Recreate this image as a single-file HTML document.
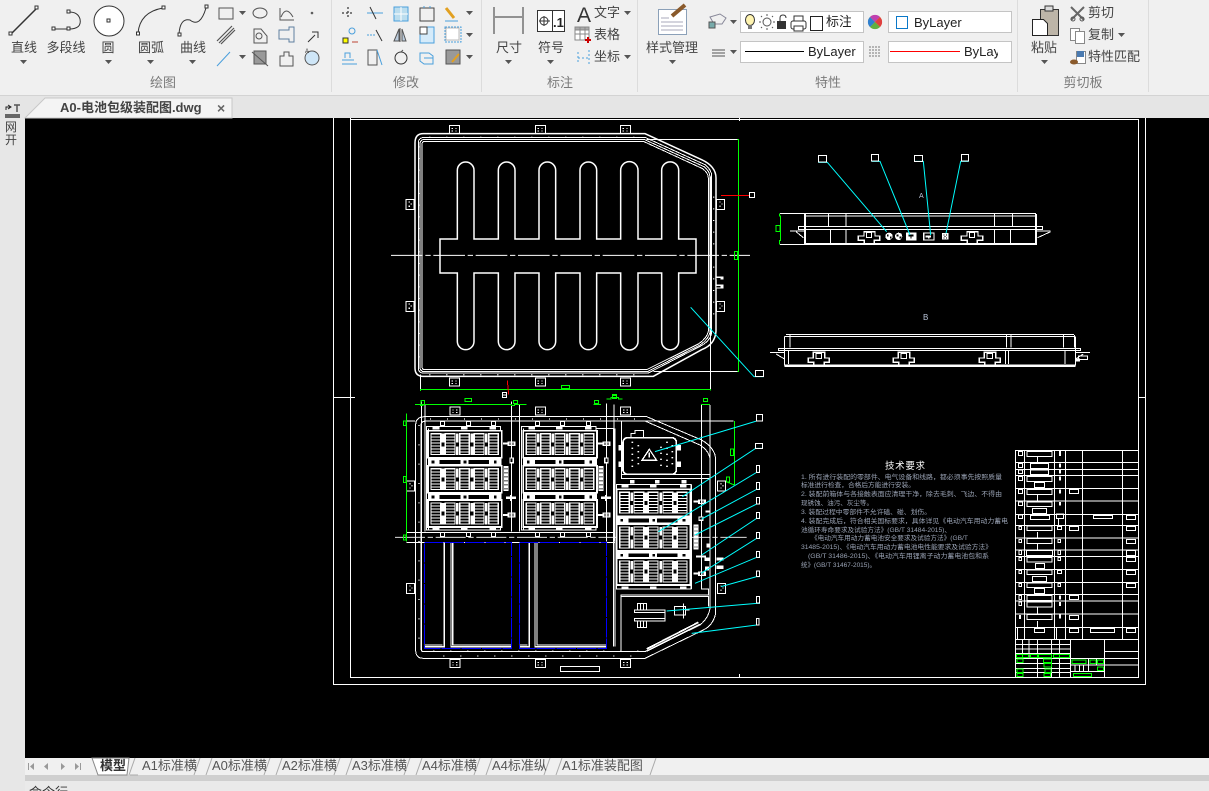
<!DOCTYPE html>
<html lang="zh"><head><meta charset="utf-8"><title>A0-电池包级装配图.dwg</title>
<style>
html,body{margin:0;padding:0;width:1209px;height:791px;overflow:hidden;background:#000}
svg{display:block}
text{font-family:"Liberation Sans","Noto Sans CJK SC",sans-serif}
.w{fill:none;stroke:#fff;stroke-width:3;shape-rendering:crispEdges}
.s{fill:none;stroke:#fff;stroke-width:4.500}
.g{fill:none;stroke:#0f0;stroke-width:3;shape-rendering:crispEdges}
.c{fill:none;stroke:#0ff;stroke-width:3}
.r{fill:none;stroke:#f00;stroke-width:3;shape-rendering:crispEdges}
.b{fill:none;stroke:#00f;stroke-width:3;stroke-dasharray:58 3;shape-rendering:crispEdges}
.f{fill:#fff;stroke:none;shape-rendering:crispEdges}
.k{fill:#000;stroke:none;shape-rendering:crispEdges}
.t{font-size:13px;fill:#444;text-anchor:middle}
.h{font-size:13px;fill:#7a7a7a;text-anchor:middle}
.l{font-size:13px;fill:#444}
.q{font-size:13px;fill:#555}
.d{font-size:6.500px;fill:#9aa3b5}
.i{fill:none;stroke:#555;stroke-width:1}
.u{fill:none;stroke:#4a9fdc;stroke-width:1}
.a{fill:#555}
</style></head><body>
<svg width="1209" height="791" viewBox="0 0 1209 791" xmlns="http://www.w3.org/2000/svg">
<defs>
<g id="cell"><rect width="33" height="66" class="f"/>
<path d="M4 4h25v6H4zM4 13h25v6H4zM4 22h25v6H4zM4 31h25v6H4zM4 40h25v6H4zM4 49h25v6H4zM4 58h25v5H4z" class="k"/></g>
<g id="mod"><rect x="-3" y="-3" width="221" height="81" class="k"/><rect x="-3" y="-3" width="221" height="81" class="w" style="stroke-width:5"/>
<use href="#cell" x="4" y="4"/><use href="#cell" x="47" y="4"/><use href="#cell" x="90" y="4"/><use href="#cell" x="134" y="4"/><use href="#cell" x="177" y="4"/>
<path d="M38 6h8v26h-8zM38 44h8v26h-8zM81 6h8v26h-8zM81 44h8v26h-8zM125 6h8v26h-8zM125 44h8v26h-8zM168 6h8v26h-8zM168 44h8v26h-8z" class="f"/></g>
<g id="sep"><rect x="-3" y="0" width="221" height="22" class="f"/><path d="M32 5h62v12H32zM118 5h62v12h-62z" class="k"/><path d="M8 7h8v8H8zM104 7h8v8h-8zM195 7h8v8h-8z" class="k"/></g>
<g id="ear"><rect width="30" height="24" class="w"/><path d="M7 8h4v3H7zM18 8h4v3h-4zM7 15h4v3H7zM18 15h4v3h-4z" class="f"/></g>
<g id="earv"><rect width="24" height="30" class="w"/><path d="M8 6h4v4H8zM14 12h4v4h-4zM8 19h4v4H8z" class="f"/></g>
<g id="post"><path d="M0 6h14v-4h24v14h-24v-4H0z" class="f"/><path d="M20 5h3v8h-3zM28 5h3v8h-3z" class="k"/></g>
<g id="bar"><rect width="16" height="75" class="f"/><path d="M3 6h4v4H3zM9 6h4v4H9zM3 18h4v4H3zM9 18h4v4H9zM3 30h4v4H3zM9 30h4v4H9zM3 42h4v4H3zM9 42h4v4H9zM3 54h4v4H3zM9 54h4v4H9zM3 66h4v4H3zM9 66h4v4H9z" class="k"/></g>
<path id="dn" d="M0 0h7l-3.500 4z"/>
</defs>

<!-- chrome -->
<rect width="1209" height="95" fill="#f0f0f0"/>
<rect y="95" width="1209" height="1" fill="#d3d3d3"/>
<rect y="96" width="1209" height="22" fill="#e5e5e5"/>
<rect y="118" width="25" height="640" fill="#e7e7e7"/>
<rect y="758" width="1209" height="17" fill="#f0f0f0"/>
<rect y="775" width="1209" height="6" fill="#cfcfcf"/>
<rect y="781" width="1209" height="10" fill="#eaeaea"/>
<rect x="0" y="758" width="25" height="33" fill="#e7e7e7"/>
<rect x="25" y="118" width="1184" height="640" fill="#000"/>
<path d="M331.500 0v92M481.500 0v92M637.500 0v92M1017.500 0v92M1148.500 0v92" stroke="#dcdcdc" fill="none"/>

<!-- draw icons -->
<g fill="none" stroke="#333" stroke-width="1">
<path d="M11 34L37 8" stroke-width="1.500"/><rect x="9" y="32" width="3" height="3" fill="#fff"/><rect x="35" y="6" width="3" height="3" fill="#fff"/>
<path d="M54 29H69Q82 29 80 19Q78 12 69 12"/><rect x="52" y="27" width="3" height="3" fill="#fff"/><rect x="67" y="27" width="3" height="3" fill="#fff"/><rect x="67" y="10" width="3" height="3" fill="#fff"/>
<circle cx="109" cy="21" r="15" fill="#fff"/><rect x="107" y="19" width="3" height="3"/>
<path d="M138 33Q140 12 163 8"/><rect x="136.500" y="32" width="3" height="3" fill="#fff"/><rect x="162" y="6" width="3" height="3" fill="#fff"/>
<path d="M179 34Q180 18 190 20Q200 28 206 8"/><rect x="178" y="33" width="3" height="3" fill="#fff"/><rect x="205" y="5" width="3" height="3" fill="#fff"/>
</g>
<g class="i">
<rect x="219" y="8" width="14" height="11"/><ellipse cx="260" cy="13" rx="7" ry="5"/><path d="M280 8v12h14M281 17q5-12 12 0"/><circle cx="312" cy="13" r=".8"/>
<path d="M217 41l15-15M219 43l15-15M221 44l14-14" stroke-width="1.200"/><path d="M254 29h7l6 7v7h-13z"/><circle cx="259" cy="36" r="3"/><path d="M279 30h10v-3h5v15h-5v-3h-10z" stroke="#5f7fa0"/><path d="M308 42l7-7 M312 32h6v6" stroke="#333"/>
<path d="M217 66l13-14" stroke="#4a9fdc"/><rect x="254" y="51" width="12" height="13" fill="#999"/><path d="M252 52l16 14" /><path d="M280 56h4v-4h5v4h4v10h-13z"/><circle cx="312" cy="58" r="7" fill="#cfe6f7" stroke="#555"/><text x="305" y="53" font-size="6" fill="#333" stroke="none">A</text>
</g>
<g class="a"><use href="#dn" x="20" y="60"/><use href="#dn" x="105" y="60"/><use href="#dn" x="147" y="60"/><use href="#dn" x="189" y="60"/><use href="#dn" x="239" y="11"/><use href="#dn" x="239" y="55"/><use href="#dn" x="466" y="11"/><use href="#dn" x="466" y="33"/><use href="#dn" x="466" y="55"/><use href="#dn" x="505" y="60"/><use href="#dn" x="547" y="60"/><use href="#dn" x="624" y="11"/><use href="#dn" x="624" y="55"/><use href="#dn" x="669" y="60"/><use href="#dn" x="730" y="20"/><use href="#dn" x="730" y="50"/><use href="#dn" x="853" y="20"/><use href="#dn" x="853" y="50"/><use href="#dn" x="1001" y="20"/><use href="#dn" x="1001" y="50"/><use href="#dn" x="1041" y="60"/><use href="#dn" x="1118" y="33"/></g>
<text x="24" y="52" class="t">直线</text><text x="66" y="52" class="t">多段线</text><text x="108" y="52" class="t">圆</text><text x="151" y="52" class="t">圆弧</text><text x="193" y="52" class="t">曲线</text>
<text x="163" y="87" class="h">绘图</text><text x="406" y="87" class="h">修改</text><text x="560" y="87" class="h">标注</text><text x="828" y="87" class="h">特性</text><text x="1083" y="87" class="h">剪切板</text>
<!-- modify icons -->
<g class="i">
<path d="M342 13h12M348 7v12" stroke-dasharray="2 2" stroke-width="1.500"/><path d="M367 13h16" stroke="#4a9fdc"/><path d="M370 7l6 12" stroke="#333"/>
<rect x="394" y="7" width="14" height="14" fill="#bde" stroke="#4a9fdc"/><path d="M401 7v14M394 14h14" stroke="#fff"/><rect x="420" y="8" width="14" height="13" stroke="#444"/><path d="M424 8V6M430 8V6" stroke="#4a9fdc"/>
<path d="M446 8l8 10" stroke="#e2a020" stroke-width="3"/><path d="M445 21h13" stroke="#4a9fdc"/>
<rect x="343" y="38" width="5" height="5" fill="#ff0" stroke="#333"/><circle cx="352" cy="31" r="3" stroke="#4a9fdc"/><path d="M352 42h6" stroke="#b43"/>
<path d="M367 35h8" stroke="#4a9fdc" stroke-dasharray="2 1"/><path d="M376 30l6 11" stroke="#333"/>
<path d="M400 28v14M399 29l-5 12h5zM402 29l4 12h-4z" fill="#bcd"/><rect x="420" y="27" width="14" height="16" fill="#d5ebfa" stroke="#4a9fdc"/><rect x="420" y="27" width="7" height="7" fill="#fff" stroke="#444"/>
<rect x="445" y="27" width="16" height="15" stroke="#4a9fdc" stroke-dasharray="2 1"/><rect x="446" y="28" width="13" height="12" fill="#fff" stroke="#bbb"/>
<path d="M342 60h12M345 58v-5h5v5M342 64h15" stroke="#4a9fdc"/><rect x="368" y="50" width="9" height="15"/><path d="M377 50l5 15" stroke="#4a9fdc"/><circle cx="401" cy="58" r="6" stroke="#333"/><path d="M401 52l2-2"/><path d="M420 53h9l4 3v8h-9l-4-3zM424 58h9" stroke="#4a9fdc"/>
<rect x="446" y="50" width="14" height="14" fill="#999"/><path d="M452 62l7-8" stroke="#e2a020" stroke-width="2"/>
</g>
<!-- annotation icons -->
<g fill="none" stroke="#333"><path d="M494 7v27M523 7v27"/><path d="M495 17h27"/></g>
<rect x="537.500" y="10.500" width="27" height="21" fill="#fff" stroke="#333"/><path d="M552.500 11v20" stroke="#333"/><circle cx="544" cy="21" r="4" fill="none" stroke="#333"/><path d="M539 21h11M544 16v10" stroke="#333"/><text x="553" y="27" font-size="13" font-weight="bold" fill="#222">.1</text>
<text x="577" y="22" font-size="21" fill="#333">A</text><rect x="575" y="27" width="14" height="13" fill="#fff" stroke="#888"/><path d="M575 30h14v-3h-14zM580 27v13M585 27v13M575 34h14" fill="#aaa" stroke="#888"/><path d="M588 37v6M585 40h6" stroke="#c00" stroke-width="2"/>
<g fill="none" stroke="#4a9fdc" stroke-dasharray="2 2"><path d="M578 52v12M589 50v14M578 58h11"/></g>
<text x="594" y="17" class="l">文字</text><text x="594" y="39" class="l">表格</text><text x="594" y="61" class="l">坐标</text>
<text x="509" y="52" class="t">尺寸</text><text x="551" y="52" class="t">符号</text>
<!-- style mgr -->
<rect x="658.500" y="9.500" width="28" height="25" fill="#fff" stroke="#8ba0b8"/><path d="M661 18h8M661 22h22M661 26h22M661 30h22" stroke="#aab"/><path d="M672 16L685 5" stroke="#8a5a2b" stroke-width="4"/>
<text x="672" y="52" class="t">样式管理</text>
<g class="i"><path d="M710 17l10-3 6 4-4 6h-8z" stroke="#889"/><rect x="709" y="22" width="6" height="6" fill="#7aa"/><path d="M712 50h13M712 53h13M712 56h13"/></g>
<!-- combos -->
<g fill="#fff" stroke="#c4c4c4"><rect x="740.500" y="11.500" width="123" height="21"/><rect x="888.500" y="11.500" width="123" height="21"/><rect x="740.500" y="41.500" width="123" height="21"/><rect x="888.500" y="41.500" width="123" height="21"/></g>
<ellipse cx="750" cy="20" rx="4.500" ry="5.500" fill="#fff4b0" stroke="#333"/><rect x="748" y="25" width="4" height="4" fill="#777"/>
<circle cx="767" cy="22" r="4" fill="#fff" stroke="#555"/><path d="M761 22h-2M775 22h-2M767 16v-2M767 30v-2M762 17l-1-1M773 28l-1-1M772 17l1-1M761 28l1-1" stroke="#555"/>
<rect x="777" y="21" width="9" height="8" fill="#333"/><path d="M780 21v-3q0-3 3-3t3 3" fill="none" stroke="#333"/>
<rect x="791" y="21" width="15" height="8" rx="2" fill="#fff" stroke="#333"/><rect x="794" y="16" width="9" height="5" fill="#fff" stroke="#333"/><rect x="794" y="26" width="9" height="5" fill="#fff" stroke="#333"/>
<rect x="810.500" y="16.500" width="12" height="14" fill="#fff" stroke="#222"/>
<svg x="826" y="12" width="25" height="20"><text x="0" y="14" class="l" style="fill:#222">标注</text></svg>
<circle cx="875" cy="22" r="7" fill="#e8c020"/><path d="M875 22L870 17A7 7 0 0 1 880 17z" fill="#c040b0"/><path d="M875 22L880 17A7 7 0 0 1 880 27z" fill="#e04040"/><path d="M875 22L870 27A7 7 0 0 0 880 27z" fill="#60b040"/><path d="M875 22L870 17A7 7 0 0 0 870 27z" fill="#3080d0"/>
<rect x="896.500" y="16.500" width="11" height="12" fill="#fff" stroke="#0a78c8"/>
<text x="914" y="27" class="l" style="fill:#222">ByLayer</text>
<path d="M745 51.500h59" stroke="#000"/><text x="808" y="56" class="l" style="fill:#222">ByLayer</text>
<rect x="890" y="51" width="70" height="1" fill="#f00"/>
<svg x="964" y="42" width="34" height="20"><text x="0" y="14" class="l" style="fill:#222">ByLayer</text></svg>
<path d="M869 47h12M869 50h12M869 53h12M869 56h12" stroke="#777" stroke-dasharray="2 1"/>
<!-- clipboard -->
<rect x="1040.500" y="9.500" width="18" height="26" fill="#bdb5a8" stroke="#333"/><rect x="1045" y="6" width="8" height="5" fill="#ddd" stroke="#333"/><path d="M1032.500 19.500h11l4 4v12h-15z" fill="#fff" stroke="#222"/>
<text x="1044" y="52" class="t">粘贴</text>
<path d="M1071 7l13 13M1084 7l-13 13" stroke="#666" stroke-width="2"/><circle cx="1073" cy="19" r="2" fill="none" stroke="#555"/><circle cx="1082" cy="19" r="2" fill="none" stroke="#555"/>
<rect x="1070.500" y="28.500" width="9" height="12" fill="#fff" stroke="#888"/><rect x="1075.500" y="31.500" width="9" height="12" fill="#fff" stroke="#888"/>
<rect x="1076.500" y="51.500" width="9" height="12" fill="#fff" stroke="#888"/><rect x="1077" y="51" width="7" height="6" fill="#4a7ab0"/><ellipse cx="1074" cy="62" rx="4" ry="2.500" fill="#8a5a2b"/>
<text x="1088" y="17" class="l">剪切</text><text x="1088" y="39" class="l">复制</text><text x="1088" y="61" class="l">特性匹配</text>
<!-- doc tab -->
<path d="M25 118L45 98H232V118Z" fill="#f4f4f4" stroke="#c8c8c8"/>
<text x="60" y="112" font-size="13" font-weight="bold" fill="#444">A0-电池包级装配图.dwg</text>
<text x="217" y="113" font-size="14" font-weight="bold" fill="#666">×</text>
<g><path d="M6 110v-3h4M8 105l3 2-3 2" fill="none" stroke="#222"/><path d="M14 105h6M17 105v7" stroke="#555" stroke-width="1.500"/><rect x="5" y="114" width="15" height="4" fill="#666"/></g>
<text x="5" y="131" font-size="12" fill="#444">网</text><text x="5" y="144" font-size="12" fill="#444">开</text>

<!-- frame -->
<g class="w" style="stroke-width:1">
<path d="M333.500 118V684.500H1145.500V118M350.500 118V678M350.500 119.500H1138.500V677.500H350.500M1138.500 119V678M333 397.500H355M1138 397.500H1145M739.500 118V121M739.500 674V678"/>
</g>

<!-- TOP VIEW -->
<g transform="translate(390,118) scale(.33333)">
<path class="s" d="M100 47H765L935 125Q978 145 978 180V640Q975 680 935 695L790 775H100Q75 775 75 750V75Q75 47 100 47Z"/>
<path class="w" d="M105 58H765L945 140Q965 155 965 175V645Q960 670 930 685L775 765H100Q85 765 85 750V75Q85 58 105 58Z"/>
<path class="w" d="M105 64H762L942 146Q960 160 960 178V642Q955 665 928 682L772 761H102Q90 760 90 747V78Q90 64 105 64Z"/>
<path class="w" d="M105 70H760L938 152Q955 165 955 180V640Q950 662 925 678L770 755H100Q96 752 96 745V80Q96 70 105 70Z"/>
<path fill="none" stroke="#fff" stroke-width="4" stroke-dasharray="3 48" d="M118 58H760M118 770H760"/>
<path fill="none" stroke="#fff" stroke-width="4" stroke-dasharray="3 32" d="M86 85V750M971 236V600"/>
<path class="s" d="M150 363H202V157A25 25 0 0 1 252 157V363H325V157A25 25 0 0 1 375 157V363H447V157A25 25 0 0 1 497 157V363H570V157A25 25 0 0 1 620 157V363H692V157A26 26 0 0 1 744 157V363H815V157A25 25 0 0 1 866 157V363H918V465H866V670A25 25 0 0 1 815 670V465H744V670A26 26 0 0 1 692 670V465H620V670A25 25 0 0 1 570 670V465H497V670A25 25 0 0 1 447 670V465H375V670A25 25 0 0 1 325 670V465H252V670A25 25 0 0 1 202 670V465H150Z"/>
<path fill="none" stroke="#fff" stroke-width="3" stroke-dasharray="95 8 16 8" d="M3 412H1080"/>
<path class="w" d="M770 64H1043M790 760H1043M92 770V815M961 175V815"/>
<path class="g" d="M1043 64H1045V760H1043M90 817H92V815H962V817"/>
<rect x="1033" y="400" width="10" height="25" class="g"/><rect x="514" y="802" width="25" height="10" class="g"/><rect x="667" y="829" width="13" height="10" class="g"/>
<path class="r" d="M993 232H1078M352 787L356 830"/><rect x="1078" y="224" width="16" height="15" class="w"/><rect x="337" y="823" width="13" height="15" class="w"/>
<path class="c" d="M902 568L1092 776H1122"/><rect x="1096" y="757" width="25" height="19" class="w"/>
<use href="#ear" x="178" y="22"/><use href="#ear" x="436" y="22"/><use href="#ear" x="691" y="22"/><use href="#ear" x="178" y="780"/><use href="#ear" x="436" y="780"/><use href="#ear" x="691" y="780"/>
<use href="#earv" x="48" y="244"/><use href="#earv" x="48" y="550"/><use href="#earv" x="980" y="244"/><use href="#earv" x="980" y="550"/>
<rect x="980" y="475" width="20" height="10" class="f"/><rect x="980" y="499" width="20" height="13" class="f"/><rect x="980" y="480" width="12" height="4" class="k"/><rect x="980" y="504" width="12" height="5" class="k"/>
</g>

<!-- BOTTOM VIEW -->
<g transform="translate(395,395) scale(.33333)">
<path class="w" d="M90 65H755L920 135Q962 160 962 195V655Q955 690 925 705L750 790H85Q62 790 62 765V90Q62 65 90 65Z"/>
<path class="w" d="M95 78H750L915 150Q945 170 945 195V640Q940 670 915 690L750 770H85Q78 770 78 760V90Q78 78 95 78Z"/>
<path class="w" style="stroke-width:5" d="M755 768L915 688M755 762L910 682"/>
<path class="w" d="M35 412H660M35 443H660M80 20V770M90 28V410M350 20V410M373 28V410M635 25V440M657 28V440M920 30V265M945 30V265M35 78H60M680 78H1016"/>
<path fill="none" stroke="#fff" stroke-width="2.500" stroke-dasharray="90 8 16 8" d="M0 427H1055"/>
<path class="w" d="M95 95V405H317V95ZM100 100V405M380 95V405H603V95ZM386 100V405M660 100V755M655 100V755M605 100H655"/>
<!-- ears -->
<use href="#ear" x="165" y="36"/><use href="#ear" x="421" y="36"/><use href="#ear" x="677" y="36"/><use href="#ear" x="165" y="793"/><use href="#ear" x="421" y="793"/><use href="#ear" x="677" y="793"/>
<use href="#earv" x="35" y="258"/><use href="#earv" x="35" y="565"/><use href="#earv" x="968" y="258"/><use href="#earv" x="968" y="565"/>
<rect x="496" y="814" width="118" height="16" class="w"/>
<path fill="none" stroke="#fff" stroke-width="4" stroke-dasharray="3 48" d="M105 72H750M115 768H750M145 783H720"/>
<path fill="none" stroke="#fff" stroke-width="4" stroke-dasharray="3 55" d="M72 90V760"/>
<!-- clips tops -->
<path class="f" d="M113 96h20v8h-20zM198 96h20v8h-20zM283 96h20v8h-20zM400 96h20v8h-20zM483 96h20v8h-20zM570 96h20v8h-20zM113 398h20v8h-20zM198 398h20v8h-20zM283 398h20v8h-20zM400 398h20v8h-20zM483 398h20v8h-20zM570 398h20v8h-20zM680 270h20v8h-20zM765 270h20v8h-20zM855 270h20v8h-20zM680 575h20v8h-20zM765 575h20v8h-20zM855 575h20v8h-20z"/>
<path class="w" d="M136 80h12v12h-12zM214 80h12v12h-12zM289 80h12v12h-12zM422 80h12v12h-12zM496 80h12v12h-12zM574 80h12v12h-12zM136 412h12v12h-12zM214 412h12v12h-12zM289 412h12v12h-12zM422 412h12v12h-12zM496 412h12v12h-12zM574 412h12v12h-12z"/>
<!-- modules -->
<use href="#sep" x="102" y="190"/><use href="#sep" x="102" y="295"/><use href="#sep" x="388" y="190"/><use href="#sep" x="388" y="295"/>
<use href="#mod" x="102" y="110"/><use href="#mod" x="102" y="215"/><use href="#mod" x="102" y="318"/>
<use href="#mod" x="388" y="110"/><use href="#mod" x="388" y="215"/><use href="#mod" x="388" y="318"/>
<use href="#sep" x="668" y="365"/><use href="#sep" x="668" y="470"/>
<use href="#mod" x="668" y="286"/><use href="#mod" x="668" y="390"/><use href="#mod" x="668" y="492"/>
<path class="w" d="M664 268V582H888V268ZM890 268V582M920 268V582H940V600H678V770M678 604H940V635"/>
<use href="#post" x="324" y="137"/><use href="#post" x="324" y="351"/><use href="#post" x="609" y="137"/><use href="#post" x="609" y="351"/><use href="#post" x="895" y="311"/><use href="#post" x="895" y="527"/>
<use href="#bar" x="325" y="213"/><use href="#bar" x="610" y="213"/><use href="#bar" x="895" y="388"/>
<path class="f" d="M343 187h14v18h-14zM333 305h30v7h-30zM345 300h5v18h-5zM627 187h14v18h-14zM618 305h30v7h-30zM630 300h5v18h-5zM910 364h16v14h-16zM932 346h12v6h-12zM903 481h30v7h-30zM928 488h16v10h-16zM935 445h10v12h-10zM930 515h12v12h-12z"/>
<path class="k" d="M347 191h6v10h-6zM631 191h6v10h-6zM914 368h8v6h-8z"/>
<!-- blue bay -->
<path class="w" style="stroke-width:4" d="M88 755H148V443M88 750H142M168 443V755H350M173 443V750H350M373 755H403V443M373 750H398M420 443V755H635M426 443V750H635"/>
<rect x="88" y="443" width="262" height="317" class="b"/><rect x="373" y="443" width="262" height="317" class="b"/>
<!-- e-box -->
<path class="w" d="M680 80V250H945M680 238H945"/>
<rect x="684" y="128" width="160" height="110" rx="14" class="w" style="stroke-width:5"/>
<path class="w" d="M708 128V115H720V107H745V128"/>
<path class="f" d="M670 150h10v16h-10zM670 200h10v16h-10zM846 150h12v16h-12zM846 200h12v16h-12zM705 255h14v10h-14zM780 255h14v10h-14zM860 255h14v10h-14z"/>
<path fill="none" stroke="#fff" stroke-width="5" stroke-dasharray="4 14" d="M712 140V230M730 150V222M798 155V225M816 140V230M832 150V220"/>
<path class="w" style="stroke-width:4" d="M763 163L785 196H741Z"/><path class="f" d="M761 173h4v14h-4z"/>
<!-- connector -->
<path class="w" d="M728 645V625H755V645M736 626V645M745 626V645M718 645H810V653H718ZM718 670H810V678H718ZM728 678V697H755V678M736 678V697M745 678V697M810 645V675M838 635H872V660H838ZM865 625V670M872 645H884"/>
<!-- right side extras -->
<path class="f" d="M965 488h20v8h-20zM965 512h20v10h-20z"/>
<!-- dims -->
<path class="g" d="M60 28H76V32H84V28H350V32H358V28H395M595 28H618M635 12H648V8H670V12H682M918 28H945M35 55V440M1018 78V270M998 262L1018 270"/>
<rect x="78" y="16" width="10" height="12" class="g"/><rect x="210" y="10" width="20" height="10" class="g"/><rect x="355" y="16" width="12" height="10" class="g"/><rect x="598" y="16" width="12" height="10" class="g"/><rect x="652" y="2" width="12" height="8" class="g"/><rect x="925" y="10" width="13" height="10" class="g"/><rect x="25" y="78" width="8" height="14" class="g"/><rect x="25" y="245" width="8" height="18" class="g"/><rect x="25" y="420" width="8" height="15" class="g"/><rect x="1006" y="162" width="10" height="20" class="g"/><rect x="994" y="246" width="9" height="15" class="g"/>
<rect x="322" y="0" width="12" height="8" class="w"/>
<!-- leaders -->
<path class="c" d="M780 170L1085 78H1103M862 305L1082 160H1103M790 410L1085 232H1095M920 372L1085 283H1095M900 420L1085 327H1095M920 480L1085 370H1095M918 535L1085 430H1095M900 565L1085 487H1095M978 575L1085 545H1095M815 648L1085 625H1095M890 715L1085 690H1092"/>
<rect x="1084" y="58" width="19" height="20" class="w"/><rect x="1081" y="145" width="22" height="15" class="w"/><rect x="1084" y="212" width="10" height="20" class="w"/><rect x="1084" y="263" width="10" height="20" class="w"/><rect x="1084" y="307" width="10" height="20" class="w"/><rect x="1084" y="352" width="10" height="18" class="w"/><rect x="1084" y="412" width="10" height="18" class="w"/><rect x="1084" y="470" width="10" height="17" class="w"/><rect x="1084" y="528" width="10" height="17" class="w"/><rect x="1084" y="604" width="10" height="20" class="w"/><rect x="1084" y="670" width="8" height="20" class="w"/>
</g>

<!-- SIDE VIEWS -->
<g transform="translate(770,140) scale(.33333)">
<path class="w" style="stroke-width:6" d="M105 222V312H798V222"/>
<path class="w" d="M105 221H798M105 228H798M85 259H818V268H85ZM175 222V258M228 222V258M673 222V258M727 222V258M181 268V310M228 268V310M673 268V310M721 268V310M30 220H105M30 313H105M60 273H103M800 273H842M78 275L100 293M842 275L803 293"/>
<path class="g" d="M28 220V228H32V302H28V314"/><rect x="18" y="256" width="12" height="18" class="g"/>
<g id="cn"><path class="w" style="stroke-width:4" d="M265 301V288H282V275H315V288H329V301H313V312H283V301Z"/><rect x="289" y="277" width="16" height="16" class="w"/></g>
<use href="#cn" x="309"/>
<circle cx="357" cy="289" r="11" class="f"/><circle cx="386" cy="289" r="11" class="f"/><path class="k" d="M351 284h5v5h-5zM360 290h5v5h-5zM380 284h5v5h-5zM389 290h5v5h-5z"/>
<rect x="408" y="277" width="32" height="25" class="f"/><path class="k" d="M415 283h16v6h-6v7h-4v-7h-6z"/>
<rect x="459" y="277" width="35" height="25" class="f"/><path class="k" d="M463 281h27v17h-27z"/><path class="f" d="M467 286h16v6h-5v4h-4v-4h-7z"/>
<rect x="516" y="279" width="20" height="20" class="f"/><path class="k" d="M520 283h3v3h-3zM528 283h3v3h-3zM524 288h3v3h-3zM520 293h3v3h-3zM528 293h3v3h-3z"/>
<path class="c" d="M145 67H172L350 275M305 64H330L420 285M433 64H460L482 285M596 64H572L528 280"/>
<rect x="145" y="46" width="25" height="20" class="w"/><rect x="304" y="43" width="22" height="20" class="w"/><rect x="433" y="46" width="25" height="18" class="w"/><rect x="574" y="43" width="22" height="20" class="w"/>
<path class="w" style="stroke-width:7" d="M43 677H916"/>
<path class="w" d="M48 584H912M43 590H915M43 590V677M916 590V677M25 625H932V632H25ZM60 585V622M710 585V622M723 585V622M880 585V622M913 585V622M55 632V672M707 632V672M715 632V672M885 632V672M0 638H43M915 638H960M18 642L42 656M940 642L918 656"/>
<rect x="925" y="648" width="28" height="11" class="w"/><rect x="918" y="655" width="12" height="9" class="f"/>
<g id="cn2"><path class="w" style="stroke-width:4" d="M115 667V654H130V637H164V654H178V667H163V675H131V667Z"/><rect x="138" y="641" width="17" height="14" class="w"/></g>
<use href="#cn2" x="255"/><use href="#cn2" x="513"/>
</g>
<text x="919" y="198" font-size="7" fill="#b9c4d8">A</text>
<text x="923" y="320" font-size="8" fill="#b9c4d8">B</text>

<!-- tech text -->
<text x="885" y="469" font-size="9.500" fill="#fff" textLength="40">技术要求</text>
<text x="801" y="479" class="d" textLength="201" lengthAdjust="spacingAndGlyphs">1. 所有进行装配的零部件、电气设备和线路，都必须事先按照质量</text>
<text x="801" y="487" class="d" textLength="114" lengthAdjust="spacingAndGlyphs">标准进行检查，合格后方能进行安装。</text>
<text x="801" y="496" class="d" textLength="201" lengthAdjust="spacingAndGlyphs">2. 装配前箱体与各接触表面应清理干净，除去毛刺、飞边、不得由</text>
<text x="801" y="505" class="d" textLength="72" lengthAdjust="spacingAndGlyphs">现锈蚀、油污、灰尘等。</text>
<text x="801" y="514" class="d" textLength="130" lengthAdjust="spacingAndGlyphs">3. 装配过程中零部件不允许磕、碰、划伤。</text>
<text x="801" y="523" class="d" textLength="207" lengthAdjust="spacingAndGlyphs">4. 装配完成后，符合相关国标要求，具体详见《电动汽车用动力蓄电</text>
<text x="801" y="532" class="d" textLength="150" lengthAdjust="spacingAndGlyphs">池循环寿命要求及试验方法》(GB/T 31484-2015)、</text>
<text x="811" y="540" class="d" textLength="157" lengthAdjust="spacingAndGlyphs">《电动汽车用动力蓄电池安全要求及试验方法》(GB/T</text>
<text x="801" y="549" class="d" textLength="191" lengthAdjust="spacingAndGlyphs">31485-2015)、《电动汽车用动力蓄电池电性能要求及试验方法》</text>
<text x="808" y="558" class="d" textLength="181" lengthAdjust="spacingAndGlyphs">(GB/T 31486-2015)、《电动汽车用锂离子动力蓄电池包和系</text>
<text x="801" y="567" class="d" textLength="75" lengthAdjust="spacingAndGlyphs">统》(GB/T 31467-2015)。</text>

<!-- parts table -->
<g transform="translate(790,450) scale(.33333)">
<path class="w" d="M677 1H1045V682H677ZM677 37H1045M677 58H1045M677 76H1045M677 115H1045M677 153H1045M677 193H1045M677 226H1045M677 264H1045M677 300H1045M677 320H1045M677 358H1045M677 397H1045M677 433H1045M677 453H1045M677 492H1045M677 532H1045M677 568H1045M703 1V568M793 1V568M826 1V568M877 1V568M997 1V568M683 532V568M800 532V568"/>
<path class="w" d="M685 4h13v13h-13zM711 4h75v16h-75zM742 20v17M685 40h13v13h-13zM721 40h55v15h-55zM685 60h13v11h-13zM721 60h55v14h-55zM685 79h13v13h-13zM711 79h75v15h-75zM733 97h30v15h-30zM685 118h13v13h-13zM711 118h75v15h-75zM742 133v20M838 118h28v13h-28zM685 156h13v11h-13zM711 156h75v14h-75zM727 176h43v14h-43zM685 195h13v11h-13zM721 196h58v12h-58zM799 192h22v14h-22zM805 206v20M910 196h58v10h-58zM1009 196h28v12h-28zM687 229h8v10h-8zM711 228h75v14h-75zM742 246v18M802 229h13v10h-13zM838 229h28v13h-28zM1009 229h28v12h-28zM687 268h8v10h-8zM711 266h75v14h-75zM742 280v20M804 268h8v10h-8zM1009 268h28v12h-28zM687 302h8v12h-8zM710 302h78v14h-78zM804 302h8v12h-8zM1009 302h28v14h-28zM687 322h8v10h-8zM711 322h75v14h-75zM736 340h28v15h-28zM804 322h8v10h-8zM1009 322h28v12h-28zM687 361h8v10h-8zM711 360h75v14h-75zM727 380h43v14h-43zM802 361h13v10h-13zM1009 361h28v12h-28zM687 400h8v10h-8zM711 399h75v14h-75zM733 416h30v15h-30zM804 400h8v10h-8zM1009 400h28v12h-28zM687 436h8v12h-8zM711 436h75v15h-75zM838 436h28v13h-28zM687 456h8v10h-8zM711 456h75v15h-75zM742 471v21M711 494h75v15h-75zM742 513v19M838 496h28v13h-28zM733 535h30v13h-30zM838 535h28v13h-28zM901 535h73v13h-73zM1009 535h28v13h-28z"/>
<path class="f" d="M807 3h6v15h-6zM807 40h6v13h-6zM807 60h6v11h-6zM807 79h6v13h-6zM807 118h6v13h-6zM807 156h6v11h-6zM807 436h6v13h-6zM807 456h6v12h-6zM687 495h6v12h-6zM807 494h6v12h-6z"/>
<path class="w" d="M677 583H842M677 597H842M677 610H842M677 625H1045M677 640H842M677 655H842M677 668H842M697 568V625M717 568V625M742 568V682M785 568V682M808 568V682M842 568V682M943 568V682M943 605H1045M943 645H1045M842 645H943M842 664H943M855 645V664M868 645V664M881 645V664M895 645V664M895 625V645M920 625V645"/>
<rect x="680" y="613" width="35" height="10" class="g"/><rect x="722" y="613" width="20" height="10" class="g"/><rect x="745" y="613" width="40" height="10" class="g"/><rect x="790" y="613" width="18" height="10" class="g"/><rect x="808" y="613" width="30" height="10" class="g"/><path class="g" d="M697 613v10"/><rect x="681" y="627" width="18" height="11" class="g"/><rect x="760" y="627" width="25" height="11" class="g"/><rect x="762" y="641" width="22" height="10" class="g"/><rect x="681" y="657" width="18" height="10" class="g"/><rect x="765" y="657" width="18" height="10" class="g"/><rect x="681" y="670" width="18" height="10" class="g"/><rect x="762" y="670" width="20" height="10" class="g"/><rect x="846" y="630" width="42" height="11" class="g"/><rect x="900" y="630" width="18" height="11" class="g"/><rect x="922" y="630" width="18" height="11" class="g"/><rect x="923" y="651" width="18" height="10" class="g"/><rect x="850" y="670" width="55" height="10" class="g"/>
</g>

<!-- bottom tabs -->
<g fill="#999"><path d="M28 763v7h1v-7zM30 766.500l4-3.500v7zM44 766.500l4-3.500v7zM61 763l4 3.500-4 3.500zM75 763l4 3.500-4 3.500zM80 763v7h1v-7z"/></g>
<path d="M92 758l6 17h29l2-17z" fill="#fff" stroke="#888"/>
<path d="M129 775l6-17M138 775h-8M200 758l-6 17M206 775l6-17M270 758l-6 17M276 775l6-17M340 758l-6 17M346 775l6-17M410 758l-6 17M416 775l6-17M480 758l-6 17M486 775l6-17M550 758l-6 17M556 775l6-17M656 758l-6 17" stroke="#aaa" fill="none"/>
<text x="100" y="770" font-size="13" font-weight="bold" fill="#333">模型</text>
<g font-size="13" fill="#555"><text x="142" y="770">A1标准横</text><text x="212" y="770">A0标准横</text><text x="282" y="770">A2标准横</text><text x="352" y="770">A3标准横</text><text x="422" y="770">A4标准横</text><text x="492" y="770">A4标准纵</text><text x="562" y="770">A1标准装配图</text></g>
<text x="29" y="797" font-size="13" fill="#333">命令行</text>
</svg>
</body></html>
